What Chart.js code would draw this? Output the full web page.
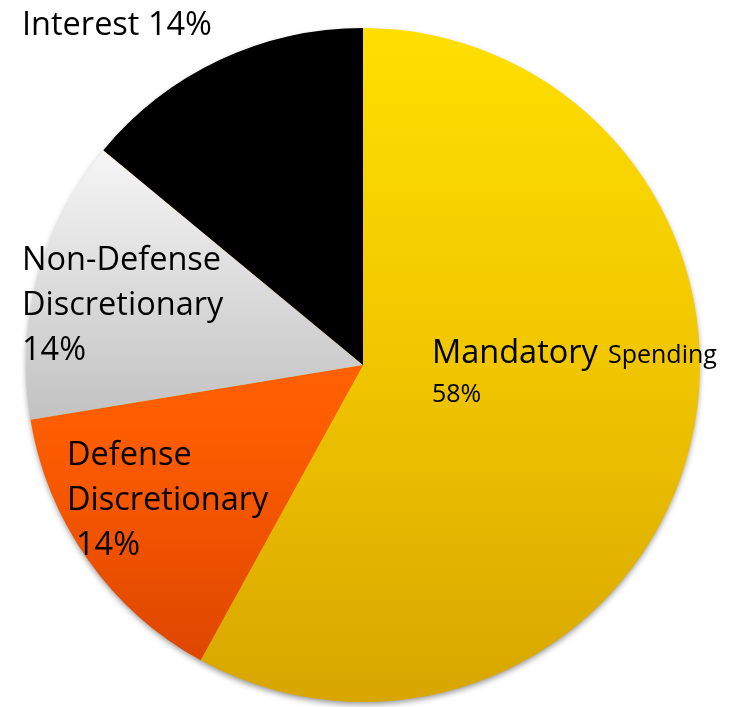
<!DOCTYPE html>
<html>
<head>
<meta charset="utf-8">
<script src="https://cdn.jsdelivr.net/npm/chart.js@4.4.1/dist/chart.umd.min.js"></script>
<style>
  html, body { margin: 0; padding: 0; background: #fff; }
  #wrap { width: 730px; height: 707px; position: relative; }
</style>
</head>
<body>
<div id="wrap"><canvas id="budgetChart"></canvas></div>
<script>
    // --- data ---
    const categories = ['Mandatory Spending', 'Defense Discretionary', 'Non-Defense Discretionary', 'Interest'];
    const shares = [58, 14.4, 13.6, 14];
    const shareLabels = ['58%', '14%', '14%', '14%'];

    // gradient stops per slice (top -> bottom of the pie)
    const sliceStops = [
        [[0, '#FFDF00'], [0.5, '#F0C600'], [1, '#D8A600']],
        [[0, '#FF6A00'], [0.58, '#FF5E00'], [1, '#D94300']],
        [[0, '#FFFFFF'], [0.18, '#F6F6F6'], [0.58, '#C2C2C2'], [1, '#A8A8A8']],
        [[0, '#000000'], [1, '#000000']]
    ];

    // text blocks placed like the original slide labels
    const labelFont = '"Open Sans", Lato, sans-serif';
    const textBlocks = [
        { x: 22, y: 35, size: 32.5, lines: ['Interest 14%'] },
        { x: 22, y: 270, size: 32.5, lines: ['Non-Defense', 'Discretionary', '14%'] },
        { x: 67, y: 465, size: 32.5, lines: ['Defense', 'Discretionary'] },
        { x: 76, y: 555, size: 32.5, lines: ['14%'] },
        { x: 432, y: 363, size: 32.5, lines: ['Mandatory'] },
        { x: 608, y: 363, size: 25, lines: ['Spending'] },
        { x: 432, y: 402, size: 25, lines: [shareLabels[0]] }
    ];

    function sliceGradient(context) {
        const chart = context.chart;
        const area = chart.chartArea;
        if (!area) return '#ccc';
        const g = chart.ctx.createLinearGradient(0, area.top, 0, area.bottom);
        sliceStops[context.dataIndex].forEach(s => g.addColorStop(s[0], s[1]));
        return g;
    }

    // soft drop shadow under the whole pie (not between slices)
    const shadowPlugin = {
        id: 'pieShadow',
        beforeDatasetsDraw(chart) {
            const arc = chart.getDatasetMeta(0).data[0];
            if (!arc) return;
            const ctx = chart.ctx;
            ctx.save();
            ctx.shadowColor = 'rgba(0,0,0,0.45)';
            ctx.shadowBlur = 6;
            ctx.shadowOffsetY = 3;
            ctx.fillStyle = '#d8a600';
            ctx.beginPath();
            ctx.arc(arc.x, arc.y, arc.outerRadius - 1, 0, Math.PI * 2);
            ctx.fill();
            ctx.restore();
        }
    };

    const textPlugin = {
        id: 'slideText',
        afterDraw(chart) {
            const ctx = chart.ctx;
            ctx.save();
            ctx.fillStyle = '#000';
            ctx.textAlign = 'left';
            ctx.textBaseline = 'alphabetic';
            textBlocks.forEach(b => {
                ctx.font = b.size + 'px ' + labelFont;
                b.lines.forEach((t, i) => ctx.fillText(t, b.x, b.y + i * 45));
            });
            ctx.restore();
        }
    };

    new Chart(document.getElementById('budgetChart'), {
        type: 'pie',
        data: {
            labels: categories,
            datasets: [{
                data: shares,
                backgroundColor: sliceGradient,
                borderWidth: 0
            }]
        },
        options: {
            responsive: true,
            maintainAspectRatio: false,
            animation: false,
            layout: { padding: { left: 25, right: 29, top: 28, bottom: 5 } },
            plugins: {
                legend: { display: false },
                tooltip: { enabled: false }
            }
        },
        plugins: [shadowPlugin, textPlugin]
    });
</script>
</body>
</html>
